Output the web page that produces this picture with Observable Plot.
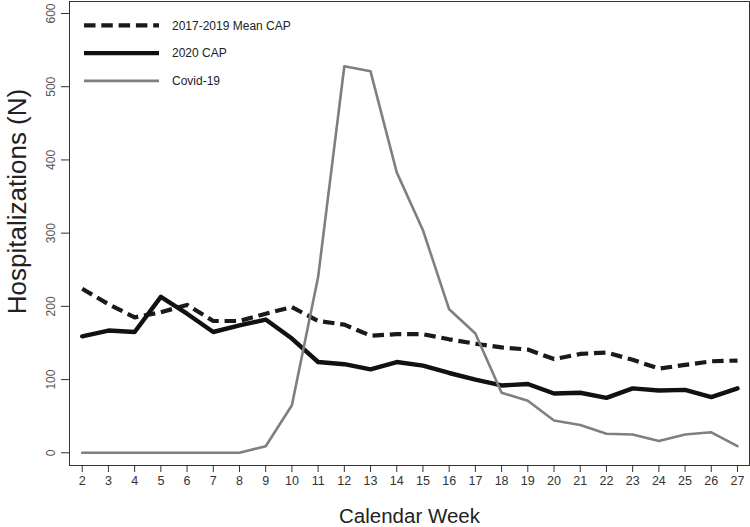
<!DOCTYPE html>
<html>
<head>
<meta charset="utf-8">
<script src="https://cdn.jsdelivr.net/npm/d3@7"></script>
<script src="https://cdn.jsdelivr.net/npm/@observablehq/plot@0.6"></script>
<style>
  html, body { margin: 0; padding: 0; background: #fff; }
  #chart { width: 750px; height: 527px; position: relative; }
  svg { font-family: "Liberation Sans", Arial, Helvetica, sans-serif; }
</style>
</head>
<body>
<div id="chart"></div>
<script>
const weeks = [2,3,4,5,6,7,8,9,10,11,12,13,14,15,16,17,18,19,20,21,22,23,24,25,26,27];
const mean2017_2019 = [224,203,185,192,202,180,180,190,199,180,175,160,162,162,155,149,144,141,128,135,137,127,115,120,125,126];
const cap2020 = [159,167,165,213,190,165,174,182,156,124,121,114,124,119,109,100,92,94,81,82,75,88,85,86,76,88];
const covid19 = [0,0,0,0,0,0,0,9,65,240,528,521,383,304,196,163,82,71,44,38,26,25,16,25,28,9];
const yTicks = [0,100,200,300,400,500,600];
const seriesNames = ["2017-2019 Mean CAP", "2020 CAP", "Covid-19"];

const meanRows = weeks.map((w, i) => ({week: w, value: mean2017_2019[i]}));
const capRows = weeks.map((w, i) => ({week: w, value: cap2020[i]}));
const covidRows = weeks.map((w, i) => ({week: w, value: covid19[i]}));

const axisColor = "#333";

const chart = Plot.plot({
  width: 750,
  height: 527,
  marginLeft: 69,
  marginRight: 1,
  marginTop: 1,
  marginBottom: 62,
  style: {fontFamily: '"Liberation Sans", Arial, Helvetica, sans-serif', background: "#fff", overflow: "visible"},
  x: {domain: [1.515, 27.458]},
  y: {domain: [-17.35, 616.4]},
  marks: [
    Plot.frame({stroke: axisColor, strokeWidth: 1}),
    Plot.axisX(weeks, {tickSize: 7, tickPadding: 4, fontSize: 12.5, stroke: axisColor, fill: "#333", label: null}),
    Plot.axisY(yTicks, {tickSize: 8, tickFormat: () => "", stroke: axisColor, label: null}),
    Plot.text(yTicks, {y: d => d, text: d => String(d), frameAnchor: "left", textAnchor: "middle", lineAnchor: "middle", dx: -18, rotate: -90, fontSize: 12, fill: "#555"}),
    Plot.text(["Hospitalizations (N)"], {frameAnchor: "left", textAnchor: "middle", lineAnchor: "middle", dx: -52, dy: -32, rotate: -90, fontSize: 26, fill: "#222"}),
    Plot.text(["Calendar Week"], {frameAnchor: "bottom", textAnchor: "middle", lineAnchor: "middle", dy: 51, fontSize: 20.5, fill: "#222"}),
    Plot.line(meanRows, {x: "week", y: "value", stroke: "#1a1a1a", strokeWidth: 4.2, strokeDasharray: "11.5,5.8", strokeLinecap: "butt", strokeLinejoin: "round"}),
    Plot.line(capRows, {x: "week", y: "value", stroke: "#111", strokeWidth: 4.4, strokeLinejoin: "round", strokeLinecap: "round"}),
    Plot.line(covidRows, {x: "week", y: "value", stroke: "#7f7f7f", strokeWidth: 2.6, strokeLinejoin: "round"})
  ]
});

document.getElementById("chart").appendChild(chart);

// Legend (inside plot, top-left)
const legendStyles = [
  {stroke: "#1a1a1a", width: 4.2, dash: "11.5,5.8"},
  {stroke: "#111", width: 4.4, dash: null},
  {stroke: "#7f7f7f", width: 2.6, dash: null}
];
const lg = d3.select(chart).append("g").attr("class", "legend").attr("text-anchor", "start");
seriesNames.forEach((name, i) => {
  const y = 25.3 + i * 27.8;
  const s = legendStyles[i];
  const ln = lg.append("line")
    .attr("x1", 84).attr("x2", 159).attr("y1", y).attr("y2", y)
    .attr("stroke", s.stroke).attr("stroke-width", s.width);
  if (s.dash) ln.attr("stroke-dasharray", s.dash);
  lg.append("text")
    .attr("x", 172).attr("y", y).attr("dy", "0.35em")
    .attr("text-anchor", "start")
    .attr("font-size", 12).attr("fill", "#222")
    .text(name);
});
</script>
</body>
</html>
